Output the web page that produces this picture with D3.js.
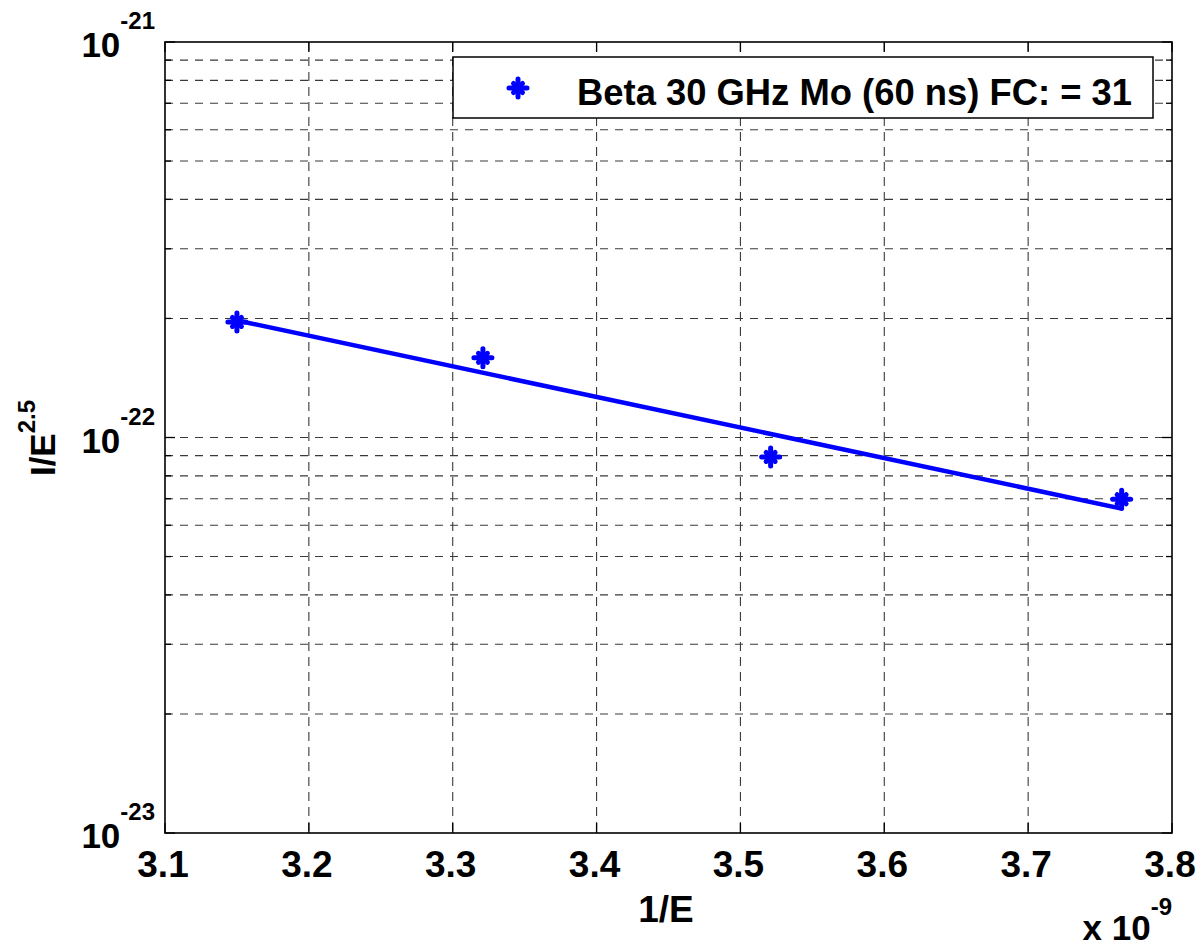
<!DOCTYPE html>
<html>
<head>
<meta charset="utf-8">
<script src="https://cdn.jsdelivr.net/npm/d3@7"></script>
<style>
  html, body { margin: 0; padding: 0; background: #fff; }
  svg { display: block; }
  text { font-family: "Liberation Sans", Arial, Helvetica, sans-serif; font-weight: bold; fill: #000; }
</style>
</head>
<body>
<svg id="chart" width="1204" height="947"></svg>
<script>
// ---- data (x in units of 1e-9) ----
const invE = [3.150, 3.321, 3.521, 3.765];
const yVals = [1.96e-22, 1.59e-22, 8.93e-23, 6.98e-23];
const fitX = [3.150, 3.765];
const fitY = [1.977e-22, 6.61e-23];
const xTicks = [3.1, 3.2, 3.3, 3.4, 3.5, 3.6, 3.7, 3.8];
const xTickLabels = ["3.1", "3.2", "3.3", "3.4", "3.5", "3.6", "3.7", "3.8"];
const yMajor = [1e-23, 1e-22, 1e-21];
const yMajorExp = ["-23", "-22", "-21"];
const seriesName = "Beta 30 GHz Mo (60 ns) FC: = 31";

const svg = d3.select("#chart");
const L = 165, R = 1172, T = 42, B = 833;
const x = d3.scaleLinear().domain([3.1, 3.8]).range([L, R]);
const y = d3.scaleLog().domain([1e-23, 1e-21]).range([B, T]);

const yMinor = [];
[1e-23, 1e-22].forEach(d => { for (let k = 2; k <= 9; k++) yMinor.push(d * k); });

const gridColor = "#3a3a3a";
const grid = svg.append("g");
grid.selectAll("line.h").data(yMinor.concat([1e-22])).enter().append("line")
  .attr("x1", L).attr("x2", R)
  .attr("y1", d => y(d)).attr("y2", d => y(d))
  .attr("stroke", gridColor).attr("stroke-width", 1.1).attr("stroke-dasharray", "8,7");
grid.selectAll("line.v").data(xTicks.slice(1, -1)).enter().append("line")
  .attr("x1", d => x(d)).attr("x2", d => x(d))
  .attr("y1", T).attr("y2", B)
  .attr("stroke", gridColor).attr("stroke-width", 1.1).attr("stroke-dasharray", "9,6");

// ticks (inward, all four sides)
const tk = svg.append("g").attr("stroke", "#000").attr("stroke-width", 1.3);
xTicks.forEach(d => {
  tk.append("line").attr("x1", x(d)).attr("x2", x(d)).attr("y1", B).attr("y2", B - 10);
  tk.append("line").attr("x1", x(d)).attr("x2", x(d)).attr("y1", T).attr("y2", T + 10);
});
yMinor.forEach(d => {
  tk.append("line").attr("x1", L).attr("x2", L + 6).attr("y1", y(d)).attr("y2", y(d));
  tk.append("line").attr("x1", R).attr("x2", R - 6).attr("y1", y(d)).attr("y2", y(d));
});
yMajor.forEach(d => {
  tk.append("line").attr("x1", L).attr("x2", L + 10).attr("y1", y(d)).attr("y2", y(d));
  tk.append("line").attr("x1", R).attr("x2", R - 10).attr("y1", y(d)).attr("y2", y(d));
});

// fit line
const line = d3.line().x(d => x(d[0])).y(d => y(d[1]));
svg.append("path").datum(fitX.map((v, i) => [v, fitY[i]]))
  .attr("d", line).attr("fill", "none").attr("stroke", "#0000ff")
  .attr("stroke-width", 4.5).attr("stroke-linecap", "round");

// asterisk markers (thick, MATLAB-like)
function star(g, cx, cy) {
  const s = g.append("g").attr("transform", `translate(${cx},${cy})`)
    .attr("stroke", "#0000ff").attr("stroke-width", 5).attr("stroke-linecap", "round");
  s.append("line").attr("x1", 0).attr("x2", 0).attr("y1", -9).attr("y2", 9);
  s.append("line").attr("x1", -9).attr("x2", 9).attr("y1", 0).attr("y2", 0);
  s.append("line").attr("x1", -4.5).attr("x2", 4.5).attr("y1", -4.5).attr("y2", 4.5);
  s.append("line").attr("x1", -4.5).attr("x2", 4.5).attr("y1", 4.5).attr("y2", -4.5);
}
invE.forEach((v, i) => star(svg, x(v), y(yVals[i])));

// axes box
svg.append("rect").attr("x", L).attr("y", T).attr("width", R - L).attr("height", B - T)
  .attr("fill", "none").attr("stroke", "#000").attr("stroke-width", 1.6);

// x tick labels
svg.append("g").selectAll("text").data(xTicks).enter().append("text")
  .attr("x", d => x(d) - 2).attr("y", 877).attr("text-anchor", "middle")
  .attr("font-size", 37).text((d, i) => xTickLabels[i]);

// y tick labels
yMajor.forEach((d, i) => {
  const t = svg.append("text").attr("x", L - 10).attr("y", y(d) + 15)
    .attr("text-anchor", "end").attr("font-size", 35);
  t.append("tspan").text("10");
  t.append("tspan").attr("font-size", 24).attr("dy", -28).text(yMajorExp[i]);
});

// x label
svg.append("text").attr("x", 666).attr("y", 922).attr("text-anchor", "middle")
  .attr("font-size", 37).text("1/E");
// x multiplier
const m = svg.append("text").attr("x", 1172).attr("y", 940).attr("text-anchor", "end").attr("font-size", 35);
m.append("tspan").text("x 10");
m.append("tspan").attr("font-size", 24).attr("dy", -25).text("-9");

// y label
const yl = svg.append("text").attr("transform", "translate(55,438) rotate(-90)")
  .attr("text-anchor", "middle").attr("font-size", 35);
yl.append("tspan").text("I/E");
yl.append("tspan").attr("font-size", 24).attr("dy", -20).text("2.5");

// legend
const lg = svg.append("g");
lg.append("rect").attr("x", 453).attr("y", 57).attr("width", 700).attr("height", 61)
  .attr("fill", "#fff").attr("stroke", "#000").attr("stroke-width", 1.5);
star(lg, 518, 88);
lg.append("text").attr("x", 577).attr("y", 105).attr("font-size", 37)
  .attr("textLength", 555).attr("lengthAdjust", "spacingAndGlyphs").text(seriesName);
</script>
</body>
</html>
